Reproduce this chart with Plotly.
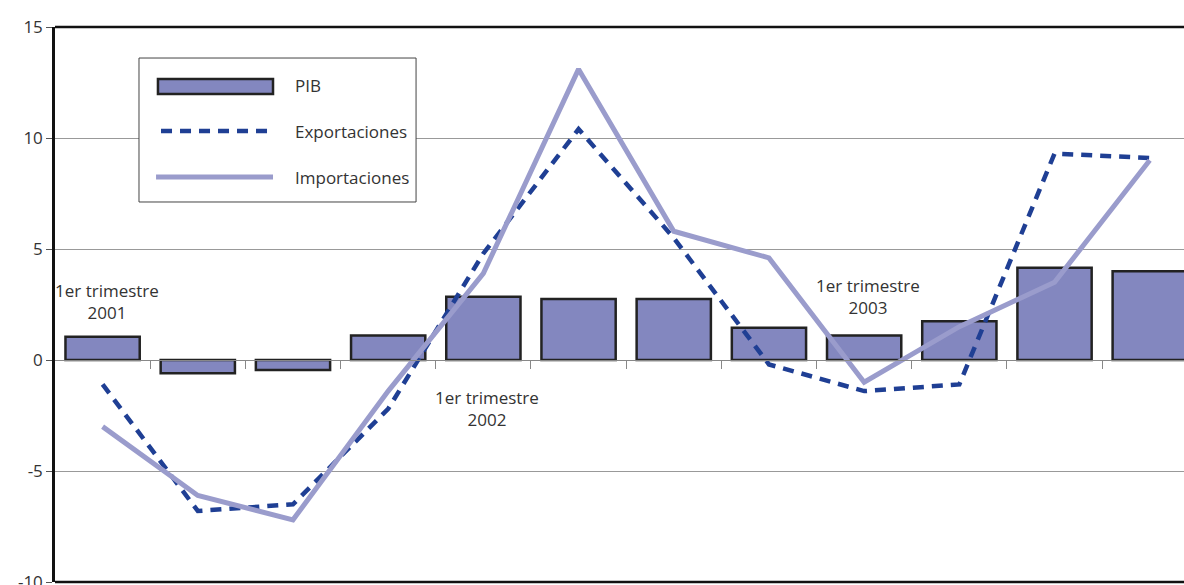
import plotly.graph_objects as go

quarters = ["2001 T1", "2001 T2", "2001 T3", "2001 T4",
            "2002 T1", "2002 T2", "2002 T3", "2002 T4",
            "2003 T1", "2003 T2", "2003 T3", "2003 T4"]
pib = [1.05, -0.6, -0.45, 1.1, 2.85, 2.75, 2.75, 1.45, 1.1, 1.75, 4.15, 4.0]
exportaciones = [-1.1, -6.8, -6.5, -2.2, 4.8, 10.4, 5.5, -0.2, -1.4, -1.1, 9.3, 9.1]
importaciones = [-3.0, -6.1, -7.2, -1.4, 3.9, 13.1, 5.8, 4.6, -1.0, 1.5, 3.5, 9.0]
y_ticks = [-10, -5, 0, 5, 10, 15]
y_tick_text = ["-10", "-5", "0", "5", "10", "15"]
notes = [(0, 2.65, "1er trimestre<br>2001"),
         (4, -2.2, "1er trimestre<br>2002"),
         (8, 2.85, "1er trimestre<br>2003")]

x = list(range(len(quarters)))
FONT = "Open Sans"
TXT = "#333333"
BAR_FILL = "#8387bf"
BAR_EDGE = "#222222"
EXP_COL = "#1f3f94"
IMP_COL = "#9a9ccc"
EXP_DASH = "11px,8px"

fig = go.Figure()
fig.add_trace(go.Bar(
    x=x, y=pib, name="PIB", width=0.78, customdata=quarters,
    marker=dict(color=BAR_FILL, line=dict(color=BAR_EDGE, width=2.5)),
    hovertemplate="%{customdata}: %{y}<extra>PIB</extra>"))
fig.add_trace(go.Scatter(
    x=x, y=exportaciones, name="Exportaciones", mode="lines", customdata=quarters,
    line=dict(color=EXP_COL, width=4.5, dash=EXP_DASH),
    hovertemplate="%{customdata}: %{y}<extra>Exportaciones</extra>"))
fig.add_trace(go.Scatter(
    x=x, y=importaciones, name="Importaciones", mode="lines", customdata=quarters,
    line=dict(color=IMP_COL, width=5),
    hovertemplate="%{customdata}: %{y}<extra>Importaciones</extra>"))

for xi, yi, t in notes:
    fig.add_annotation(x=xi, y=yi, text=t, showarrow=False,
                       font=dict(family=FONT, size=17, color=TXT),
                       xanchor="center", yanchor="middle", xshift=4)

fig.update_layout(
    width=1184, height=585,
    margin=dict(l=55, r=0, t=27, b=3, autoexpand=False),
    paper_bgcolor="white", plot_bgcolor="white",
    font=dict(family=FONT, size=17, color=TXT),
    showlegend=False,
    xaxis=dict(range=[-0.5, 11.36], anchor="free", position=0.4,
               showline=True, linecolor="#888888", linewidth=1,
               tickvals=[i + 0.5 for i in x[:-1]], ticks="outside",
               ticklen=8, tickcolor="#888888", tickwidth=1,
               showticklabels=False, showgrid=False, zeroline=False,
               automargin=False),
    yaxis=dict(range=[-10, 15], tickvals=y_ticks, ticktext=y_tick_text,
               showline=True, linecolor="#111111", linewidth=2.5,
               ticks="outside", ticklen=6, tickcolor="#555555",
               ticklabeloverflow="allow", automargin=False,
               showgrid=True, gridcolor="#999999", gridwidth=1,
               zeroline=True, zerolinecolor="#888888", zerolinewidth=1,
               tickfont=dict(family=FONT, size=17, color=TXT)),
)
# frame lines at top and bottom of plot area
fig.add_shape(type="line", xref="paper", yref="paper", x0=0, x1=1, y0=1, y1=1,
              line=dict(color="#111111", width=2.5))
fig.add_shape(type="line", xref="paper", yref="paper", x0=0, x1=1, y0=0, y1=0,
              line=dict(color="#111111", width=2.5))

# legend box (drawn in paper coordinates)
fig.add_shape(type="rect", xref="paper", yref="paper",
              x0=0.0744, x1=0.3198, y0=0.6847, y1=0.9441,
              line=dict(color="#444444", width=1), fillcolor="white")
fig.add_shape(type="rect", xref="paper", yref="paper",
              x0=0.0912, x1=0.1931, y0=0.8793, y1=0.9063,
              line=dict(color=BAR_EDGE, width=2.5), fillcolor=BAR_FILL)
fig.add_shape(type="line", xref="paper", yref="paper",
              x0=0.0939, x1=0.1900, y0=0.8126, y1=0.8126,
              line=dict(color=EXP_COL, width=4.5, dash=EXP_DASH))
fig.add_shape(type="line", xref="paper", yref="paper",
              x0=0.0895, x1=0.1931, y0=0.7297, y1=0.7297,
              line=dict(color=IMP_COL, width=5))
for name, yy in [("PIB", 0.8937), ("Exportaciones", 0.8126), ("Importaciones", 0.7297)]:
    fig.add_annotation(xref="paper", yref="paper", x=0.2108, y=yy, text=name,
                       showarrow=False, xanchor="left", yanchor="middle",
                       font=dict(family=FONT, size=17, color=TXT))

fig.write_html("out.html", config={"displayModeBar": False},
               post_script="document.body.style.margin='0';")
